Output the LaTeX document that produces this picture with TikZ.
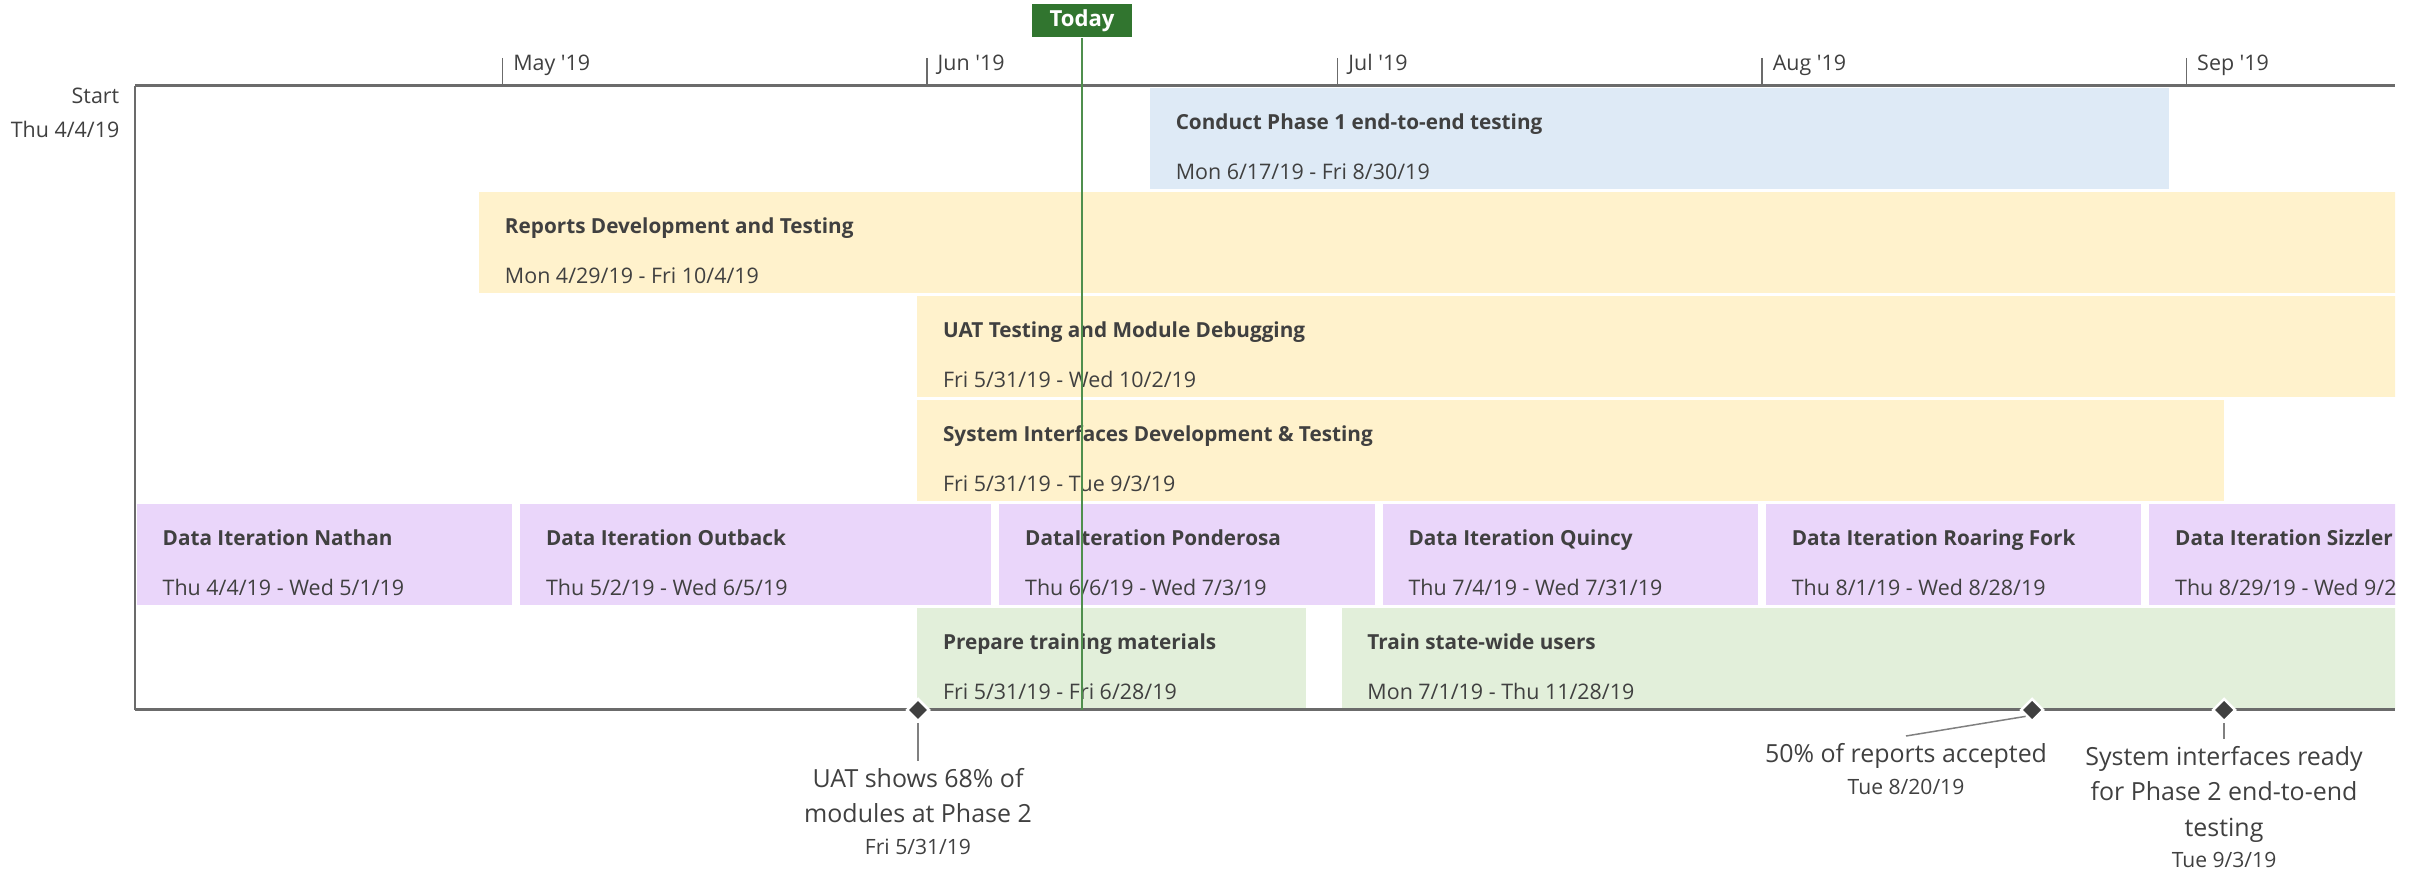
\documentclass[tikz,border=0pt]{standalone}
\usepackage{fontspec}
\setmainfont{Open Sans}
\usetikzlibrary{shapes.geometric}

\definecolor{inkgray}{HTML}{404040}
\definecolor{axisgray}{HTML}{6B6B6B}
\definecolor{linegray}{HTML}{808080}
\definecolor{barblue}{HTML}{DEEAF6}
\definecolor{baryellow}{HTML}{FFF2CC}
\definecolor{barpurple}{HTML}{EAD6FA}
\definecolor{bargreen}{HTML}{E2EFDA}
\definecolor{todaygreen}{HTML}{31752F}
\definecolor{todayline}{HTML}{4F8F4D}

% day number (from Thu 4/4/19) to x
\newcommand{\dx}[1]{133+13.69*(#1)}
\newcommand{\msdatefont}{\fontsize{6.0}{7}\selectfont}

\begin{document}
\begin{tikzpicture}[x=0.1mm, y=-0.1mm,
	tasktitle/.style={anchor=base west, inner sep=0pt, text=inkgray, font=\fontsize{5.9}{7}\selectfont\bfseries},
	taskdate/.style={anchor=base west, inner sep=0pt, text=inkgray, font=\fontsize{6.1}{7}\selectfont},
	monthlabel/.style={anchor=base west, inner sep=0pt, text=inkgray, font=\fontsize{6.1}{7}\selectfont},
	startlabel/.style={anchor=base east, inner sep=0pt, text=inkgray, font=\fontsize{6.1}{7}\selectfont},
	milestone/.style={diamond, fill=inkgray, draw=white, line width=0.25mm, inner sep=0pt, minimum size=2.3mm},
	mslabel/.style={anchor=north, align=center, inner sep=0.7mm, text=inkgray, font=\fontsize{7.1}{10}\selectfont},
	connector/.style={draw=linegray, line width=0.15mm},
	axisline/.style={draw=axisgray, line width=0.3mm},
	tickline/.style={draw=axisgray, line width=0.15mm},
	todaybox/.style={fill=todaygreen, text=white, font=\fontsize{6.3}{7}\selectfont\bfseries, minimum width=10mm, minimum height=3.3mm, inner sep=0pt},
]

	\useasboundingbox (0,0) rectangle (2415,872);

	% ---- bars

	\begin{scope}
		\clip (135,86) rectangle (2395,712);

		\fill[barblue] ({\dx{74}+4},88) rectangle ({\dx{149}-4},189);
		\fill[baryellow] ({\dx{25}+4},192) rectangle (2400,293);
		\fill[baryellow] ({\dx{57}+4},296) rectangle (2400,397);
		\fill[baryellow] ({\dx{57}+4},400) rectangle ({\dx{153}-4},501);

		\fill[barpurple] ({\dx{0}+4},504) rectangle ({\dx{28}-4},605);
		\fill[barpurple] ({\dx{28}+4},504) rectangle ({\dx{63}-4},605);
		\fill[barpurple] ({\dx{63}+4},504) rectangle ({\dx{91}-4},605);
		\fill[barpurple] ({\dx{91}+4},504) rectangle ({\dx{119}-4},605);
		\fill[barpurple] ({\dx{119}+4},504) rectangle ({\dx{147}-4},605);
		\fill[barpurple] ({\dx{147}+4},504) rectangle (2400,605);

		\fill[bargreen] ({\dx{57}+4},608) rectangle ({\dx{86}-4},709);
		\fill[bargreen] ({\dx{88}+4},608) rectangle (2400,709);

		% ---- bar texts

		\node[tasktitle] (conduct) at ({\dx{74}+29},130) {Conduct Phase 1 end-to-end testing};
		\node[taskdate] (conductdates) at ({\dx{74}+29},180) {Mon 6/17/19 - Fri 8/30/19};

		\node[tasktitle] (reports) at ({\dx{25}+29},234) {Reports Development and Testing};
		\node[taskdate] (reportsdates) at ({\dx{25}+29},284) {Mon 4/29/19 - Fri 10/4/19};

		\node[tasktitle] (uat) at ({\dx{57}+29},338) {UAT Testing and Module Debugging};
		\node[taskdate] (uatdates) at ({\dx{57}+29},388) {Fri 5/31/19 - Wed 10/2/19};

		\node[tasktitle] (sysint) at ({\dx{57}+29},442) {System Interfaces Development \& Testing};
		\node[taskdate] (sysintdates) at ({\dx{57}+29},492) {Fri 5/31/19 - Tue 9/3/19};

		\node[tasktitle] (nathan) at ({\dx{0}+29},546) {Data Iteration Nathan};
		\node[taskdate] (nathandates) at ({\dx{0}+29},596) {Thu 4/4/19 - Wed 5/1/19};

		\node[tasktitle] (outback) at ({\dx{28}+29},546) {Data Iteration Outback};
		\node[taskdate] (outbackdates) at ({\dx{28}+29},596) {Thu 5/2/19 - Wed 6/5/19};

		\node[tasktitle] (ponderosa) at ({\dx{63}+29},546) {DataIteration Ponderosa};
		\node[taskdate] (ponderosadates) at ({\dx{63}+29},596) {Thu 6/6/19 - Wed 7/3/19};

		\node[tasktitle] (quincy) at ({\dx{91}+29},546) {Data Iteration Quincy};
		\node[taskdate] (quincydates) at ({\dx{91}+29},596) {Thu 7/4/19 - Wed 7/31/19};

		\node[tasktitle] (roaring) at ({\dx{119}+29},546) {Data Iteration Roaring Fork};
		\node[taskdate] (roaringdates) at ({\dx{119}+29},596) {Thu 8/1/19 - Wed 8/28/19};

		\node[tasktitle] (sizzler) at ({\dx{147}+29},546) {Data Iteration Sizzler};
		\node[taskdate] (sizzlerdates) at ({\dx{147}+29},596) {Thu 8/29/19 - Wed 9/25/19};

		\node[tasktitle] (prep) at ({\dx{57}+29},650) {Prepare training materials};
		\node[taskdate] (prepdates) at ({\dx{57}+29},700) {Fri 5/31/19 - Fri 6/28/19};

		\node[tasktitle] (train) at ({\dx{88}+29},650) {Train state-wide users};
		\node[taskdate] (traindates) at ({\dx{88}+29},700) {Mon 7/1/19 - Thu 11/28/19};
	\end{scope}

	% ---- frame and time axis

	\draw[axisline] (135,86) -- (2395,86);
	\draw[axisline] (135,710) -- (2395,710);
	\draw[draw=axisgray, line width=0.2mm] (135,86) -- (135,710);

	\foreach \m/\d in {May/27, Jun/58, Jul/88, Aug/119, Sep/150} {
		\draw[tickline] ({\dx{\d}},58) -- ({\dx{\d}},86);
		\node[monthlabel] (month\m) at ({\dx{\d}+10},71) {\m\ \textquotesingle19};
	}

	\node[startlabel] (start) at (120,104) {Start};
	\node[startlabel] (startdate) at (120,138) {Thu 4/4/19};

	% ---- today

	\node[todaybox] (today) at (1082,21) {Today};
	\coordinate (todayend) at (1082,710);
	\draw[todayline, line width=0.2mm] (today.south) -- (todayend);

	% ---- milestones

	\node[milestone] (m1) at (918,710) {};
	\node[milestone] (m2) at (2032,710) {};
	\node[milestone] (m3) at (2224,710) {};

	\node[mslabel] (m1lab) at (918,761) {UAT shows 68\% of\\modules at Phase 2\\[-1pt]{\msdatefont Fri 5/31/19}};
	\node[mslabel] (m2lab) at (1906,736) {50\% of reports accepted\\[-1pt]{\msdatefont Tue 8/20/19}};
	\node[mslabel] (m3lab) at (2224,739) {System interfaces ready\\for Phase 2 end-to-end\\testing\\[-1pt]{\msdatefont Tue 9/3/19}};

	\draw[connector] (m1) -- (m1lab);
	\draw[connector] (m2.south west) -- (m2lab.north);
	\draw[connector] (m3) -- (m3lab);

\end{tikzpicture}
\end{document}
